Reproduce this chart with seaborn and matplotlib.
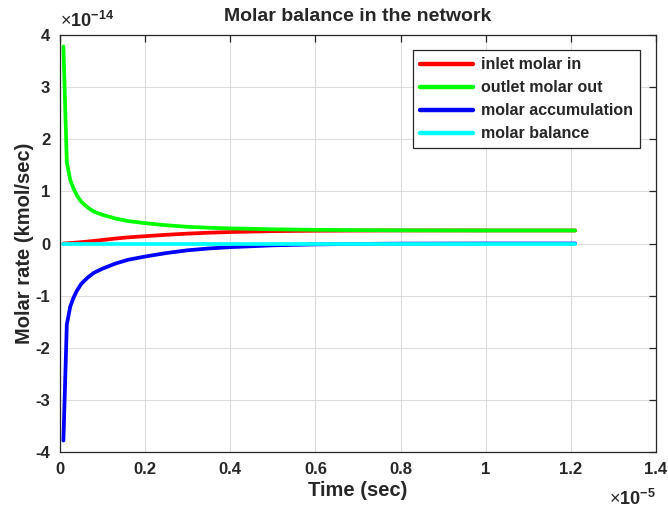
import matplotlib
matplotlib.use("Agg")
import matplotlib.pyplot as plt
import matplotlib.ticker as mticker
import numpy as np
import pandas as pd
import seaborn as sns

# Time (units of 1e-5 sec) and molar rates (units of 1e-14 kmol/sec)
time = [0.008, 0.016, 0.024, 0.032, 0.04, 0.05, 0.065, 0.08, 0.1, 0.13, 0.16,
        0.2, 0.25, 0.3, 0.35, 0.4, 0.5, 0.6, 0.7, 0.8, 1.0, 1.21]
inlet = [0.0, 0.004, 0.009, 0.014, 0.019, 0.026, 0.037, 0.05, 0.068, 0.095, 0.118,
         0.14, 0.167, 0.19, 0.207, 0.22, 0.237, 0.245, 0.248, 0.25, 0.25, 0.25]
outlet = [3.78, 1.56, 1.22, 1.05, 0.92, 0.80, 0.69, 0.61, 0.55, 0.48, 0.43,
          0.39, 0.35, 0.32, 0.302, 0.29, 0.272, 0.262, 0.256, 0.253, 0.25, 0.25]
accumulation = [-3.78, -1.556, -1.211, -1.036, -0.901, -0.774, -0.653, -0.56, -0.482,
                -0.385, -0.312, -0.25, -0.183, -0.13, -0.095, -0.07, -0.035, -0.017,
                -0.008, -0.003, 0.0, 0.0]
balance = [0.0] * len(time)

series_names = ["inlet molar in", "outlet molar out", "molar accumulation", "molar balance"]
series_colors = ["#ff0000", "#00ff00", "#0000ff", "#00ffff"]

frames = []
for name, vals in zip(series_names, [inlet, outlet, accumulation, balance]):
    frames.append(pd.DataFrame({"time": time, "rate": vals, "series": name}))
df = pd.concat(frames, ignore_index=True)

sns.set_theme(style="white")
plt.rcParams["font.family"] = ["Liberation Sans", "DejaVu Sans"]
plt.rcParams["mathtext.fontset"] = "custom"
plt.rcParams["mathtext.rm"] = "Liberation Sans"
plt.rcParams["mathtext.bf"] = "Liberation Sans:bold"

fig = plt.figure(figsize=(6.68, 5.11), dpi=100)
ax = fig.add_axes([60 / 668, 1 - 452 / 511, 596 / 668, 417 / 511])

sns.lineplot(data=df, x="time", y="rate", hue="series", hue_order=series_names,
             palette=series_colors, estimator=None, sort=False, linewidth=2.7,
             ax=ax, legend=True)

ax.set_xlim(0, 1.4)
ax.set_ylim(-4, 4)
ax.xaxis.set_major_locator(mticker.MultipleLocator(0.2))
ax.yaxis.set_major_locator(mticker.MultipleLocator(1))
fmt = mticker.FuncFormatter(lambda v, p: f"{v:g}")
ax.xaxis.set_major_formatter(fmt)
ax.yaxis.set_major_formatter(fmt)

ax.grid(True, color="#dcdcdc", linewidth=0.8)
for s in ax.spines.values():
    s.set_color("#262626")
    s.set_linewidth(0.9)
    s.set_visible(True)
ax.tick_params(direction="in", length=5, width=0.9, color="#262626",
               top=True, right=True, labelsize=12, labelcolor="#262626", pad=7)
for lab in ax.get_xticklabels() + ax.get_yticklabels():
    lab.set_fontweight("bold")

ax.set_title("Molar balance in the network", fontsize=14, fontweight="bold", pad=10)
ax.set_xlabel("Time (sec)", fontsize=14.5, fontweight="bold", color="#262626", labelpad=3)
ax.set_ylabel("Molar rate (kmol/sec)", fontsize=14.5, fontweight="bold", color="#262626", labelpad=1)

ax.text(0.0, 1.01, r"$\times\mathbf{10^{-14}}$", transform=ax.transAxes,
        ha="left", va="bottom", fontsize=13, color="#262626")
ax.text(1.0, -0.088, r"$\times\mathbf{10^{-5}}$", transform=ax.transAxes,
        ha="right", va="top", fontsize=13, color="#262626")

leg = ax.legend(loc="upper right", bbox_to_anchor=(0.973, 0.964), borderaxespad=0,
                frameon=True, fancybox=False, edgecolor="#262626", framealpha=1,
                handlelength=3.3, handletextpad=0.5, borderpad=0.45, labelspacing=0.5,
                prop={"weight": "bold", "size": 11.5})
leg.get_frame().set_linewidth(0.9)
for h in leg.legend_handles:
    h.set_linewidth(3.2)

fig.savefig("out.png", dpi=100)
